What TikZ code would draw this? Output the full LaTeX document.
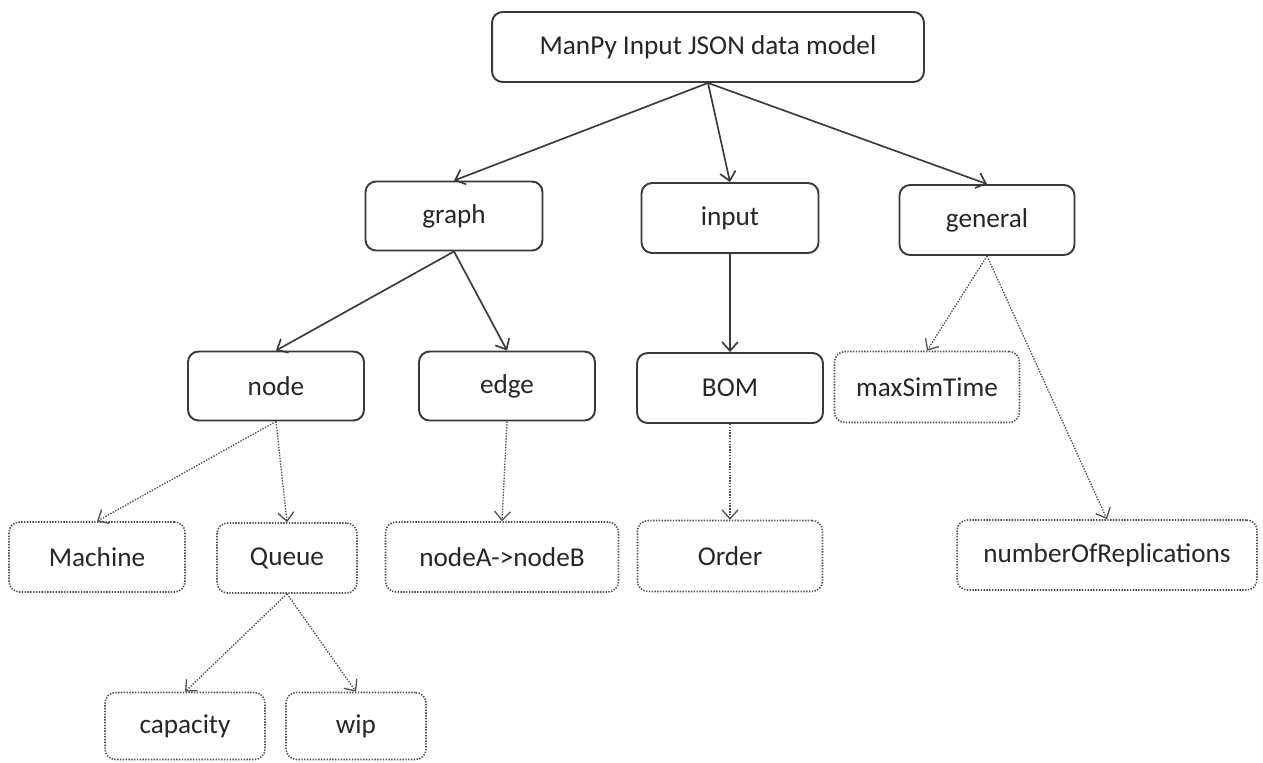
\documentclass[tikz,border=0pt]{standalone}
\usepackage{fontspec}
\setmainfont{Carlito}
\usetikzlibrary{arrows.meta,positioning}
\definecolor{boxline}{HTML}{3A3A3A}
\definecolor{dotline}{HTML}{505050}
\tikzset{>={Straight Barb[length=5pt,width=9pt]},
    punkt/.style={rectangle, rounded corners=6pt, draw=boxline, line width=1.1pt,
                    text=black!85, font=\fontsize{15.5}{18}\selectfont, inner sep=0pt},
    dpunkt/.style={punkt, draw=dotline, line width=0.9pt, dash pattern=on 0.8pt off 0.8pt},
    pil/.style={->, draw=boxline, line width=0.95pt},
    dpil/.style={->, draw=dotline, line width=0.75pt, dash pattern=on 0.8pt off 0.8pt}}
\begin{document}
\begin{tikzpicture}[x=0.02cm, y=-0.02cm]
    \useasboundingbox (0,0) rectangle (1263,762);
    % top level
    \node[punkt, minimum width=8.64cm, minimum height=1.40cm]
        (model) at (708,47) {ManPy Input JSON data model};
    % second level
    \node[punkt, minimum width=3.54cm, minimum height=1.38cm]
        (graph) at (454,216) {graph};
    \node[punkt, minimum width=3.54cm, minimum height=1.40cm]
        (input) at (730,218) {input};
    \node[punkt, minimum width=3.50cm, minimum height=1.40cm]
        (general) at (987,220) {general};
    % third level
    \node[punkt, minimum width=3.52cm, minimum height=1.38cm]
        (node) at (276,386) {node};
    \node[punkt, minimum width=3.52cm, minimum height=1.38cm]
        (edge) at (507,386) {edge};
    \node[punkt, minimum width=3.72cm, minimum height=1.40cm]
        (bom) at (730,388) {BOM};
    \node[dpunkt, minimum width=3.70cm, minimum height=1.42cm]
        (maxsim) at (927,387) {maxSimTime};
    % fourth level
    \node[dpunkt, minimum width=3.52cm, minimum height=1.40cm]
        (machine) at (97,557) {Machine};
    \node[dpunkt, minimum width=2.80cm, minimum height=1.40cm]
        (queue) at (287,558) {Queue};
    \node[dpunkt, minimum width=4.66cm, minimum height=1.40cm]
        (nodeab) at (502,557) {nodeA->nodeB};
    \node[dpunkt, minimum width=3.70cm, minimum height=1.42cm]
        (order) at (730,556) {Order};
    \node[dpunkt, minimum width=6.00cm, minimum height=1.40cm]
        (replic) at (1107,555) {numberOfReplications};
    % queue attributes
    \node[dpunkt, minimum width=3.20cm, minimum height=1.34cm]
        (capacity) at (185,726) {capacity};
    \node[dpunkt, minimum width=2.80cm, minimum height=1.34cm]
        (wip) at (356,726) {wip};

    \draw[pil] (model.south) -- (graph.north);
    \draw[pil] (model.south) -- (input.north);
    \draw[pil] (model.south) -- (general.north);
    \draw[pil] (graph.south) -- (node.north);
    \draw[pil] (graph.south) -- (edge.north);
    \draw[pil] (input.south) -- (bom.north);
    \draw[dpil] (general.south) -- (maxsim.north);
    \draw[dpil] (general.south) -- (replic.north);
    \draw[dpil] (node.south) -- (machine.north);
    \draw[dpil] (node.south) -- (queue.north);
    \draw[dpil] (edge.south) -- (nodeab.north);
    \draw[dpil] (bom.south) -- (order.north);
    \draw[dpil] (queue.south) -- (capacity.north);
    \draw[dpil] (queue.south) -- (wip.north);
\end{tikzpicture}
\end{document}
